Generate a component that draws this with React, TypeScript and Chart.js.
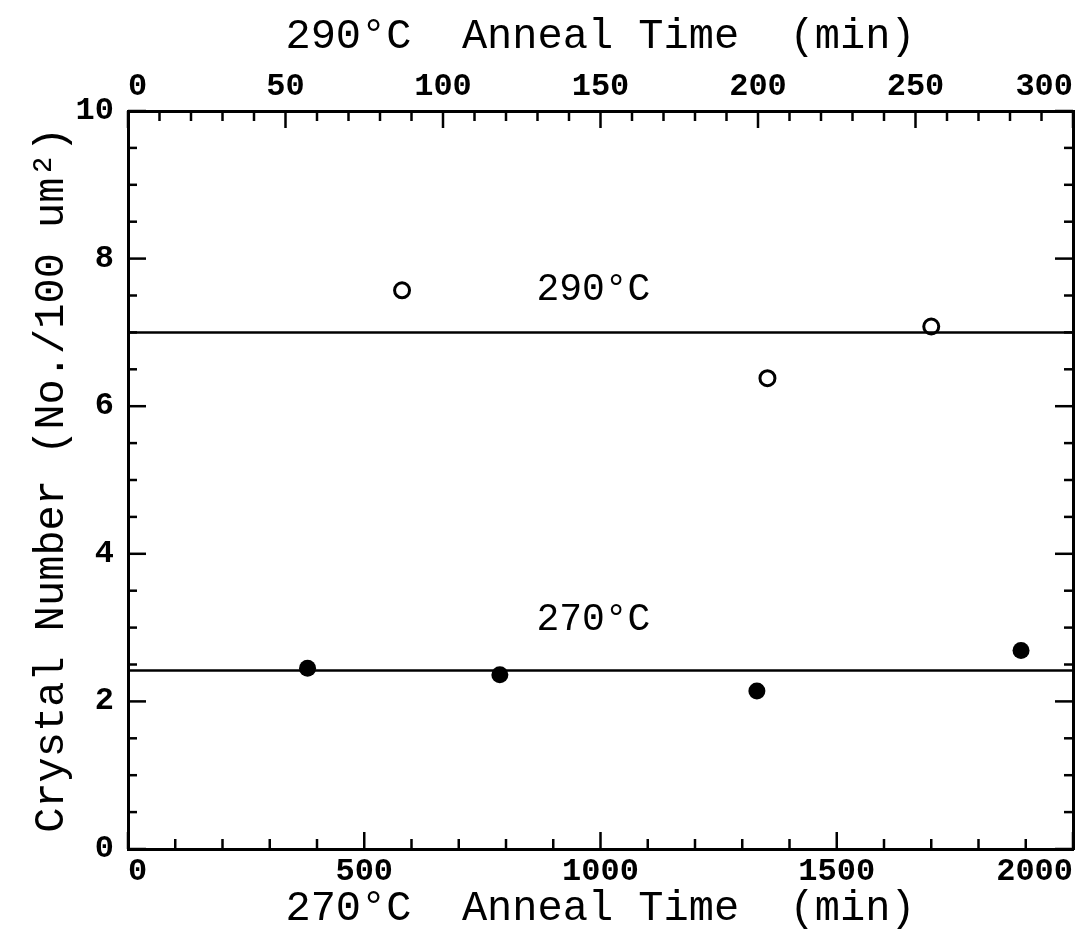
import React, { useEffect, useRef } from "react";
import { Chart, registerables } from "chart.js";

Chart.register(...registerables);

// 290°C data (top axis, 0–300 min)
const time290 = [87, 203, 255];
const crystal290 = [7.57, 6.38, 7.08];
// 270°C data (bottom axis, 0–2000 min)
const time270 = [380, 787, 1331, 1890];
const crystal270 = [2.45, 2.36, 2.14, 2.69];
// horizontal mean lines
const level290 = 7.0;
const level270 = 2.42;
// inline labels: [text, bottom-axis time, crystal number]
const labelTexts = ["290°C", "270°C"];
const labelTimes = [985, 985];
const labelValues = [7.57, 3.1];

const bottomTicks = [0, 500, 1000, 1500, 2000];
const topTicks = [0, 50, 100, 150, 200, 250, 300];
const leftTicks = [0, 2, 4, 6, 8, 10];

const FONT = "'Liberation Mono', 'DejaVu Sans Mono', monospace";

const innerTicks = {
  id: "innerTicks",
  afterDatasetsDraw(chart: any) {
    const { ctx, chartArea, scales } = chart;
    ctx.save();
    ctx.strokeStyle = "#000";
    ctx.lineWidth = 2.5;
    const line = (x1: number, y1: number, x2: number, y2: number) => {
      ctx.beginPath();
      ctx.moveTo(x1, y1);
      ctx.lineTo(x2, y2);
      ctx.stroke();
    };
    for (let v = 0; v <= 2000; v += 100) {
      const x = scales.x.getPixelForValue(v);
      const len = v % 500 === 0 ? 17 : 10;
      line(x, chartArea.bottom, x, chartArea.bottom - len);
    }
    for (let v = 0; v <= 300; v += 10) {
      const x = scales.x2.getPixelForValue(v);
      const len = v % 50 === 0 ? 17 : 10;
      line(x, chartArea.top, x, chartArea.top + len);
    }
    for (let i = 0; i <= 20; i++) {
      const v = i * 0.5;
      const y = scales.y.getPixelForValue(v);
      const len = i % 4 === 0 ? 18 : 9;
      line(chartArea.left, y, chartArea.left + len, y);
      line(chartArea.right, y, chartArea.right - len, y);
    }
    // inline labels
    ctx.fillStyle = "#000";
    ctx.font = `38px ${FONT}`;
    ctx.textAlign = "center";
    ctx.textBaseline = "middle";
    labelTexts.forEach((t, i) => {
      ctx.fillText(t, scales.x.getPixelForValue(labelTimes[i]), scales.y.getPixelForValue(labelValues[i]));
    });
    ctx.restore();
  },
};

function fixSize(prop: "width" | "height", size: number) {
  return (scale: any) => {
    scale[prop] = size;
    scale.paddingLeft = 0;
    scale.paddingRight = 0;
    scale.paddingTop = 0;
    scale.paddingBottom = 0;
  };
}

const plain = (v: any) => String(v);

export default function App() {
  const ref = useRef<HTMLCanvasElement>(null);
  useEffect(() => {
    const chart = new Chart(ref.current!, {
      type: "scatter",
      data: {
        datasets: [
          {
            label: "290 line",
            data: [
              { x: 0, y: level290 },
              { x: 2000, y: level290 },
            ],
            showLine: true,
            borderColor: "#000",
            borderWidth: 2.5,
            pointRadius: 0,
            xAxisID: "x",
          },
          {
            label: "270 line",
            data: [
              { x: 0, y: level270 },
              { x: 2000, y: level270 },
            ],
            showLine: true,
            borderColor: "#000",
            borderWidth: 2.5,
            pointRadius: 0,
            xAxisID: "x",
          },
          {
            label: "290°C",
            data: time290.map((t, i) => ({ x: t, y: crystal290[i] })),
            xAxisID: "x2",
            pointRadius: 7.5,
            pointBorderWidth: 3,
            pointBorderColor: "#000",
            pointBackgroundColor: "#fff",
          },
          {
            label: "270°C",
            data: time270.map((t, i) => ({ x: t, y: crystal270[i] })),
            xAxisID: "x",
            pointRadius: 8.5,
            pointBorderWidth: 0,
            pointBackgroundColor: "#000",
          },
        ],
      },
      options: {
        responsive: false,
        animation: false,
        layout: { padding: 0 },
        plugins: { legend: { display: false }, tooltip: { enabled: false } },
        scales: {
          x: {
            type: "linear",
            position: "bottom",
            min: 0,
            max: 2000,
            afterBuildTicks: (s: any) => {
              s.ticks = bottomTicks.map((v) => ({ value: v }));
            },
            ticks: {
              color: "#000",
              font: { family: FONT, size: 32, weight: "bold" },
              padding: 4,
              maxRotation: 0,
              autoSkip: false,
              align: "inner",
              callback: plain,
            },
            grid: { drawOnChartArea: false, drawTicks: false },
            border: { color: "#000", width: 3 },
            title: {
              display: true,
              text: "270°C  Anneal Time  (min)",
              color: "#000",
              font: { family: FONT, size: 42 },
              padding: { top: 0, bottom: 3 },
            },
            afterFit: fixSize("height", 88),
          },
          x2: {
            type: "linear",
            position: "top",
            min: 0,
            max: 300,
            afterBuildTicks: (s: any) => {
              s.ticks = topTicks.map((v) => ({ value: v }));
            },
            ticks: {
              color: "#000",
              font: { family: FONT, size: 32, weight: "bold" },
              padding: 5,
              maxRotation: 0,
              autoSkip: false,
              align: "inner",
              callback: plain,
            },
            grid: { drawOnChartArea: false, drawTicks: false },
            border: { color: "#000", width: 3 },
            title: {
              display: true,
              text: "290°C  Anneal Time  (min)",
              color: "#000",
              font: { family: FONT, size: 42 },
              padding: { top: 12, bottom: 0 },
            },
            afterFit: fixSize("height", 111),
          },
          y: {
            type: "linear",
            position: "left",
            min: 0,
            max: 10,
            afterBuildTicks: (s: any) => {
              s.ticks = leftTicks.map((v) => ({ value: v }));
            },
            ticks: {
              color: "#000",
              font: { family: FONT, size: 32, weight: "bold" },
              padding: 14,
              callback: plain,
            },
            grid: { drawOnChartArea: false, drawTicks: false },
            border: { color: "#000", width: 3 },
            title: {
              display: true,
              text: "Crystal Number (No./100 um²)",
              color: "#000",
              font: { family: FONT, size: 42 },
              padding: { top: 27, bottom: 0 },
            },
            afterFit: fixSize("width", 128),
          },
          y2: {
            type: "linear",
            position: "right",
            min: 0,
            max: 10,
            ticks: { display: false },
            grid: { drawOnChartArea: false, drawTicks: false },
            border: { color: "#000", width: 3 },
            afterFit: fixSize("width", 16),
          },
        },
      },
      plugins: [innerTicks],
    } as any);
    return () => chart.destroy();
  }, []);
  return (
    <div style={{ position: "fixed", left: 0, top: 0, width: 1089, height: 937, background: "#fff" }}>
      <canvas ref={ref} width={1089} height={937} />
    </div>
  );
}
